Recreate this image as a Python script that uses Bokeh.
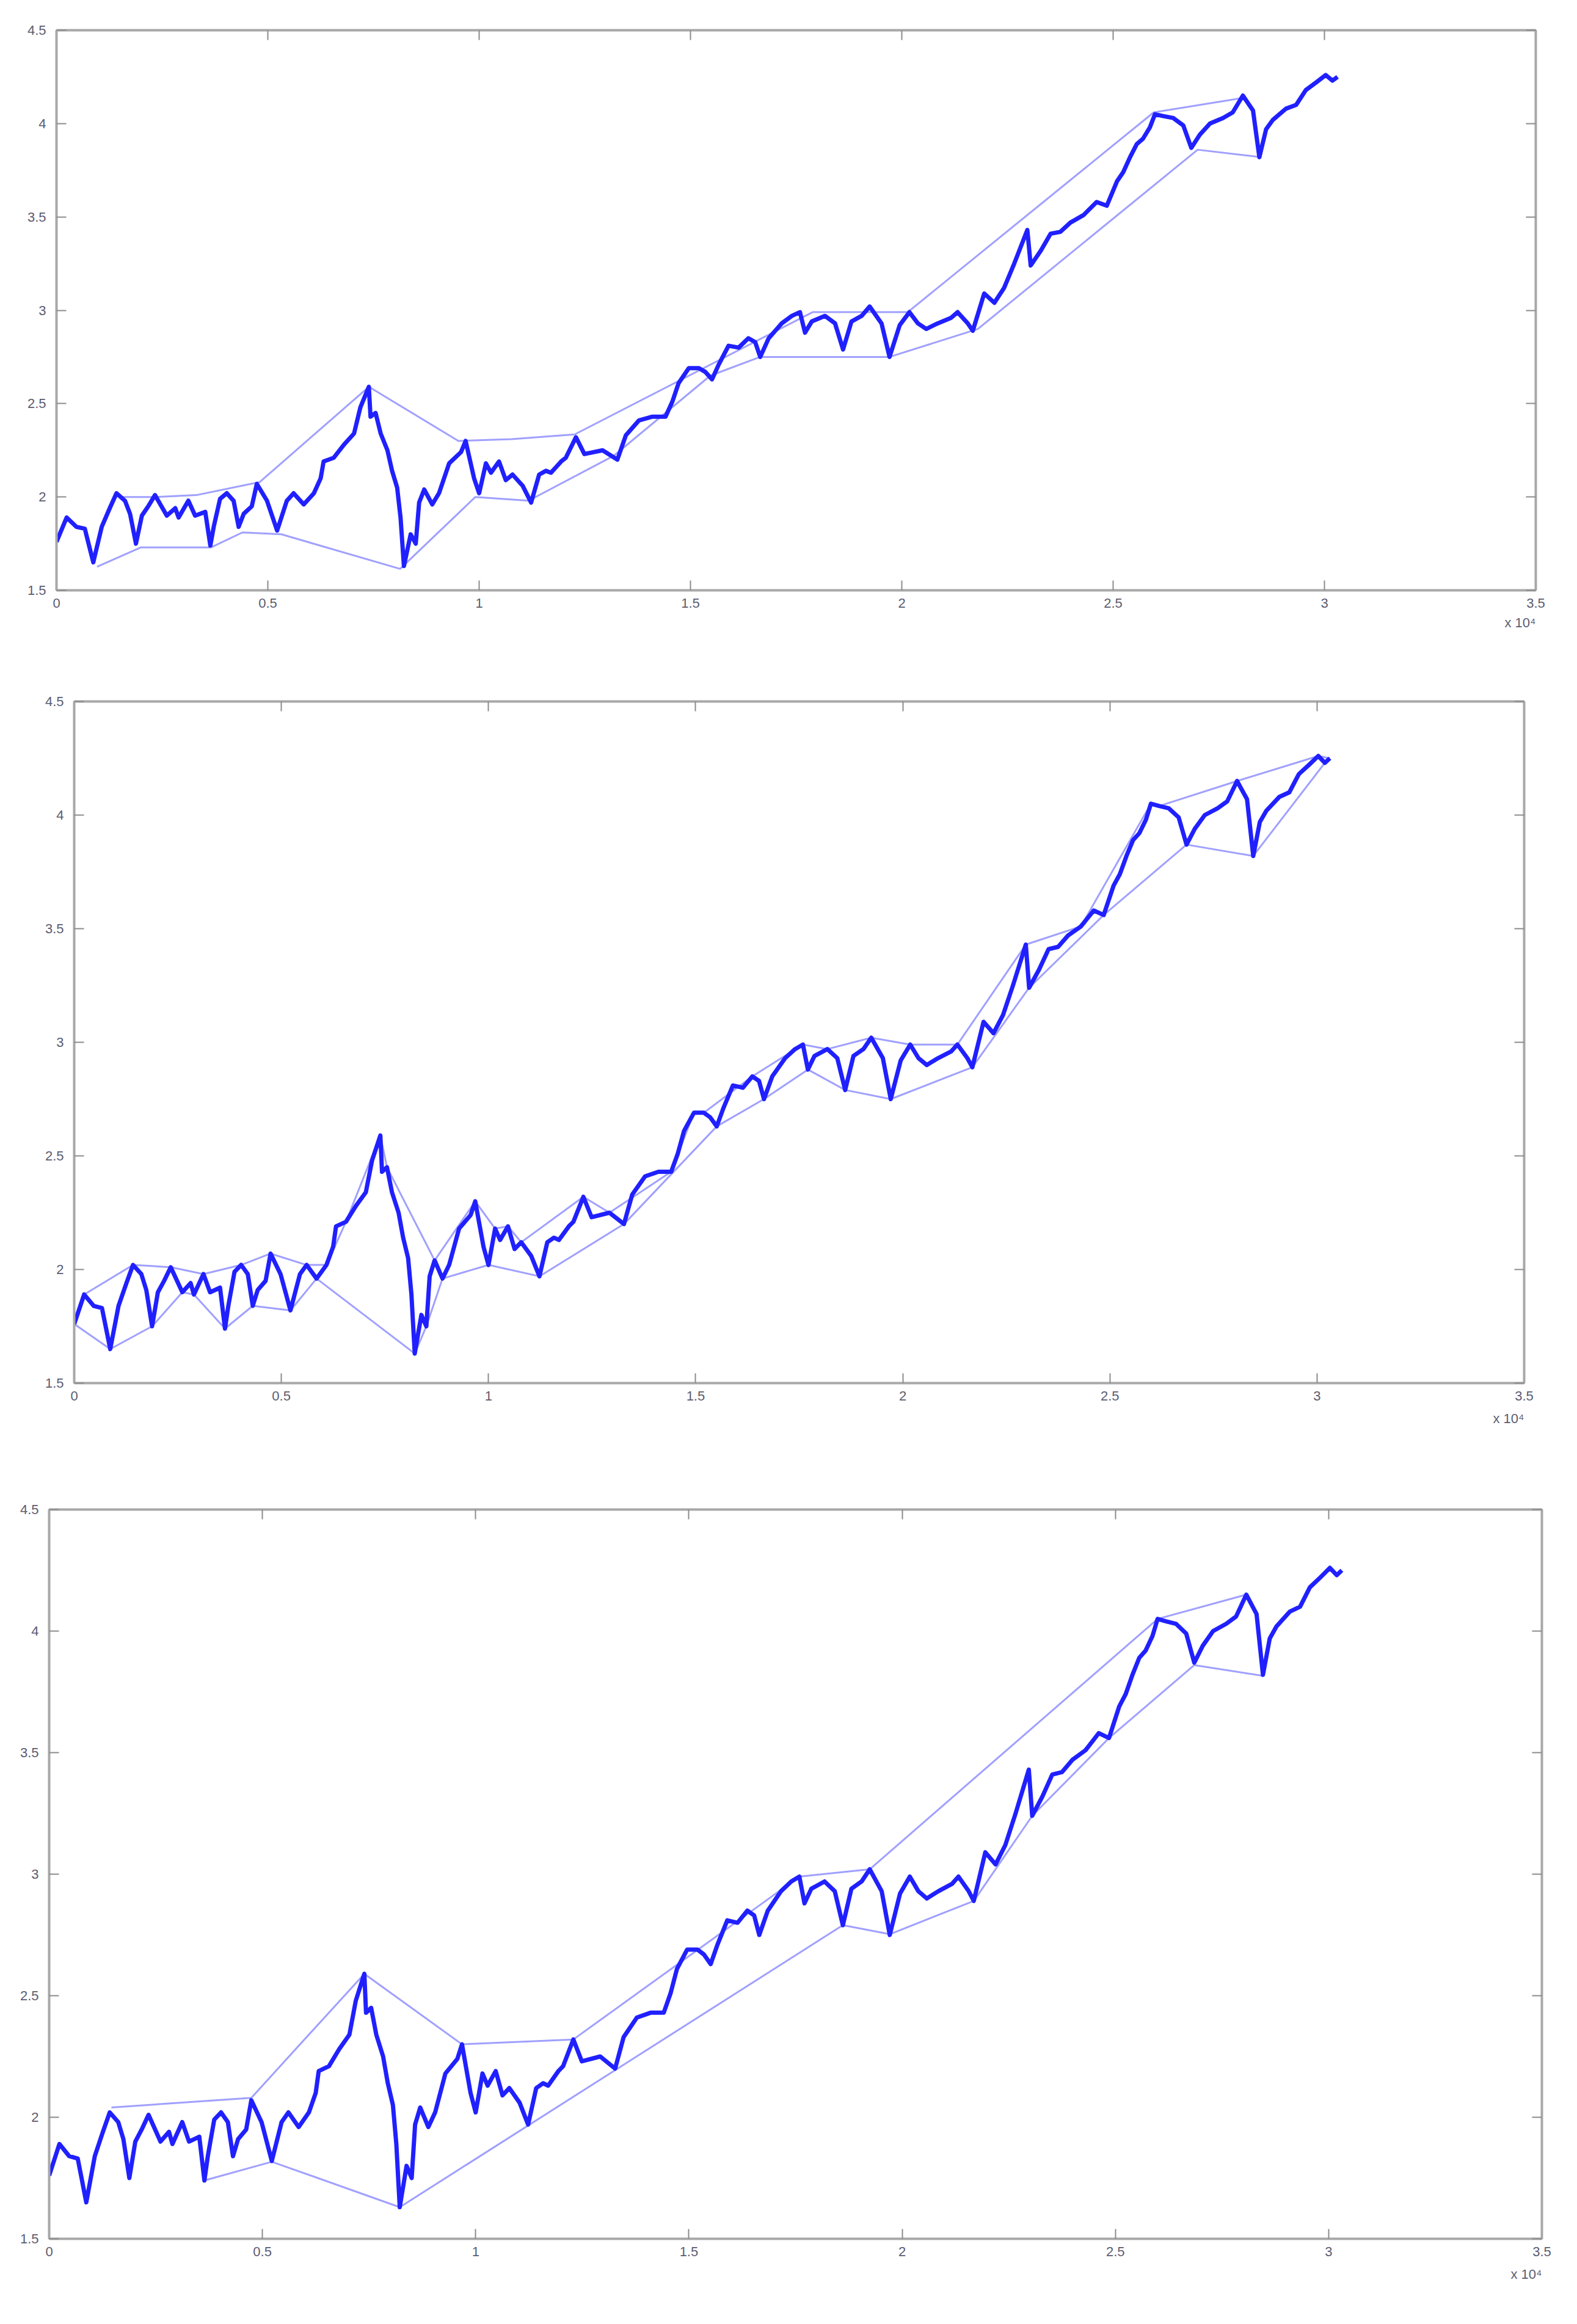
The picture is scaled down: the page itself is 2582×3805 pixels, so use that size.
from bokeh.plotting import figure
from bokeh.models import Range1d, FixedTicker, LinearAxis, Title
from bokeh.embed import file_html
from bokeh.resources import INLINE

# ---------------- data (x in trading-day index, y = value) ----------------
series_x = [0, 240, 470, 670, 870, 1070, 1260, 1420, 1620, 1740, 1880, 2020, 2170, 2330,
            2610, 2810, 2890, 3120, 3280, 3520, 3640, 3720, 3870, 4030, 4190, 4310, 4430,
            4620, 4740, 4980, 5220, 5450, 5610, 5850, 6090, 6250, 6320, 6560, 6800, 7040,
            7190, 7390, 7430, 7550, 7670, 7830, 7940, 8060, 8140, 8220, 8380, 8500, 8580,
            8700, 8890, 9050, 9290, 9570, 9680, 9880, 10000, 10160, 10280, 10470, 10630,
            10790, 11030, 11230, 11420, 11580, 11700, 11940, 12050, 12290, 12490, 12920,
            13270, 13470, 13780, 14100, 14410, 14570, 14720, 14960, 15200, 15350, 15510,
            15670, 15900, 16140, 16370, 16530, 16650, 16850, 17160, 17400, 17590, 17710,
            17870, 18180, 18420, 18610, 18810, 19050, 19240, 19520, 19710, 19950, 20180,
            20380, 20580, 20850, 21170, 21320, 21560, 21680, 21950, 22190, 22420, 22660,
            22970, 23050, 23290, 23520, 23750, 23990, 24300, 24610, 24850, 25090, 25240,
            25400, 25560, 25710, 25870, 25990, 26190, 26420, 26660, 26850, 27050, 27290,
            27600, 27830, 28070, 28310, 28460, 28620, 28780, 29090, 29330, 29560, 29800,
            30030, 30190, 30310]
series_y = [1.76, 1.89, 1.84, 1.83, 1.65, 1.84, 1.94, 2.02, 1.98, 1.91, 1.75, 1.90, 1.95, 2.01,
            1.90, 1.94, 1.89, 1.98, 1.90, 1.92, 1.74, 1.84, 1.99, 2.02, 1.98, 1.84, 1.91,
            1.95, 2.07, 1.98, 1.82, 1.98, 2.02, 1.96, 2.02, 2.10, 2.19, 2.21, 2.28, 2.34,
            2.48, 2.59, 2.43, 2.45, 2.34, 2.25, 2.14, 2.05, 1.89, 1.63, 1.80, 1.75, 1.97,
            2.04, 1.96, 2.02, 2.18, 2.24, 2.30, 2.10, 2.02, 2.18, 2.13, 2.19, 2.09,
            2.12, 2.06, 1.97, 2.12, 2.14, 2.13, 2.19, 2.21, 2.32, 2.23, 2.25,
            2.20, 2.33, 2.41, 2.43, 2.43, 2.51, 2.61, 2.69, 2.69, 2.67, 2.63,
            2.71, 2.81, 2.80, 2.85, 2.83, 2.75, 2.85, 2.93, 2.97, 2.99, 2.88,
            2.94, 2.97, 2.93, 2.79, 2.94, 2.97, 3.02, 2.93, 2.75, 2.92, 2.99,
            2.93, 2.90, 2.93, 2.96, 2.99, 2.93, 2.89, 3.09, 3.04, 3.12, 3.25,
            3.43, 3.24, 3.32, 3.41, 3.42, 3.47, 3.51, 3.58, 3.56, 3.69, 3.74,
            3.82, 3.89, 3.92, 3.98, 4.05, 4.04, 4.03, 3.99, 3.87, 3.94, 4.00,
            4.03, 4.06, 4.15, 4.07, 3.82, 3.97, 4.02, 4.08, 4.10, 4.18, 4.22,
            4.26, 4.23, 4.25]

# panel 1 (coarse) envelope
p1_upper_x = [1480, 2340, 3310, 4810, 7390, 9510, 10770, 12260, 17890, 20140, 25960, 28140]
p1_upper_y = [2.00, 2.00, 2.01, 2.08, 2.59, 2.30, 2.31, 2.335, 2.99, 2.99, 4.06, 4.14]
p1_lower_x = [960, 2000, 3660, 4400, 5320, 8130, 9910, 11170, 13180, 15470, 16650, 19710, 21800, 27000, 28500]
p1_lower_y = [1.626, 1.73, 1.73, 1.81, 1.80, 1.615, 2.00, 1.98, 2.22, 2.65, 2.75, 2.75, 2.90, 3.86, 3.82]

# panel 2 (fine) envelope
p2_upper_x = [0, 240, 1420, 2330, 3120, 4030, 4740, 5610, 6090, 6560, 7390, 7550, 8700,
              9680, 10160, 10470, 10790, 12290, 12920, 14410, 14960, 15200, 16370, 17590,
              18180, 19240, 20180, 21320, 22970, 24300, 25990, 26190, 28070, 30030, 30310]
p2_upper_y = [1.76, 1.89, 2.02, 2.01, 1.98, 2.02, 2.07, 2.02, 2.02, 2.21, 2.59, 2.45, 2.04,
              2.30, 2.18, 2.19, 2.12, 2.32, 2.25, 2.43, 2.69, 2.69, 2.85, 2.99,
              2.97, 3.02, 2.99, 2.99, 3.43, 3.51, 4.05, 4.04, 4.15, 4.26, 4.25]
p2_lower_x = [0, 870, 1880, 2610, 2890, 3640, 4310, 5220, 5850, 8220, 8500, 8890, 10000,
              11230, 13270, 15510, 16650, 17710, 18610, 19710, 21680, 23050, 24850, 26850,
              28460, 30190]
p2_lower_y = [1.76, 1.65, 1.75, 1.90, 1.89, 1.74, 1.84, 1.82, 1.96, 1.63, 1.75, 1.96, 2.02,
              1.97, 2.20, 2.63, 2.75, 2.88, 2.79, 2.75, 2.89, 3.24, 3.56, 3.87,
              3.82, 4.23]

# panel 3 (coarse) envelope
p3_upper_x = [1460, 4740, 7390, 9680, 12290, 17590, 19240, 25990, 28070]
p3_upper_y = [2.04, 2.08, 2.59, 2.30, 2.32, 2.99, 3.02, 4.05, 4.15]
p3_lower_x = [3640, 5220, 8220, 18610, 19710, 21680, 23050, 24850, 26850, 28460]
p3_lower_y = [1.74, 1.817, 1.63, 2.79, 2.753, 2.89, 3.24, 3.56, 3.86, 3.816]

x_ticks = [0, 5000, 10000, 15000, 20000, 25000, 30000, 35000]
x_tick_labels = ["0", "0.5", "1", "1.5", "2", "2.5", "3", "3.5"]
y_ticks = [1.5, 2, 2.5, 3, 3.5, 4, 4.5]
y_tick_labels = ["1.5", "2", "2.5", "3", "3.5", "4", "4.5"]
x_multiplier = "x 10⁴"

MAIN = "#2020ff"
ENV = "#a0a0ff"
AX = "#a8a8a8"
LBL = "#5c5c70"
FONT = "Liberation Sans"


def make_panel(width, height, bl, br, bt, bb, ux, uy, lx, ly, mult_standoff):
    p = figure(width=width, height=height, output_backend="svg", toolbar_location=None,
               x_range=Range1d(0, 35000), y_range=Range1d(1.5, 4.5),
               min_border_left=bl, min_border_right=br, min_border_top=bt, min_border_bottom=bb)
    p.xgrid.visible = False
    p.ygrid.visible = False
    p.background_fill_color = "white"
    p.border_fill_color = "white"
    p.outline_line_color = AX
    p.outline_line_width = 3

    xt = FixedTicker(ticks=x_ticks)
    yt = FixedTicker(ticks=y_ticks)
    xo = {t: s for t, s in zip(x_ticks, x_tick_labels)}
    yo = {t: s for t, s in zip(y_ticks, y_tick_labels)}

    for ax in p.xaxis:
        ax.ticker = xt
        ax.major_label_overrides = xo
    for ax in p.yaxis:
        ax.ticker = yt
        ax.major_label_overrides = yo

    top = LinearAxis(ticker=xt, major_label_text_color=None)
    right = LinearAxis(ticker=yt, major_label_text_color=None)
    p.add_layout(top, "above")
    p.add_layout(right, "right")

    for ax in list(p.xaxis) + list(p.yaxis):
        ax.axis_line_color = AX
        ax.axis_line_width = 4
        ax.major_tick_line_color = "#8c8c8c"
        ax.major_tick_line_width = 2
        ax.major_tick_in = 16
        ax.major_tick_out = 0
        ax.minor_tick_line_color = None
        ax.major_label_text_font = FONT
        ax.major_label_text_font_size = "22px"
    p.below[0].major_label_standoff = 13
    p.left[0].major_label_standoff = 17
    for ax in [p.below[0], p.left[0]]:
        ax.major_label_text_color = LBL

    # envelopes
    p.line(ux, uy, line_color=ENV, line_width=3)
    p.line(lx, ly, line_color=ENV, line_width=3)
    # series
    p.line(series_x, series_y, line_color=MAIN, line_width=7, line_join="round")

    p.add_layout(Title(text=x_multiplier, align="right", text_font=FONT, text_font_size="22px",
                       text_font_style="normal", text_color=LBL, offset=0,
                       standoff=mult_standoff), "below")
    return p


p1 = make_panel(2574, 1108, 92, 60, 49, 142, p1_upper_x, p1_upper_y, p1_lower_x, p1_lower_y, 14)
p2 = make_panel(2574, 1292, 121, 79, 40, 136, p2_upper_x, p2_upper_y, p2_lower_x, p2_lower_y, 24)
p3 = make_panel(2574, 1397, 80, 50, 71, 132, p3_upper_x, p3_upper_y, p3_lower_x, p3_lower_y, 24)

open("out.html", "w").write(file_html([p1, p2, p3], INLINE))
